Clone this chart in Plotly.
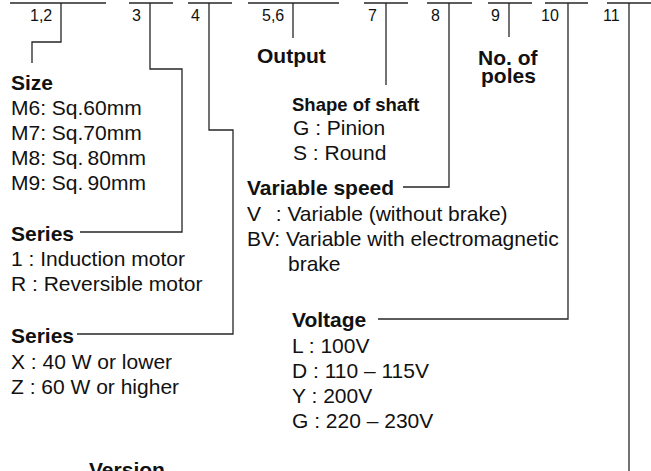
import plotly.graph_objects as go

W, H = 651, 471

# ---- content (text) ----
code_labels = ["1,2", "3", "4", "5,6", "7", "8", "9", "10", "11"]

size_title = "Size"
size_opts = ["M6: Sq.60mm", "M7: Sq.70mm", "M8: Sq.\u200980mm", "M9: Sq.\u200990mm"]

series1_title = "Series"
series1_opts = ["1 : Induction motor", "R : Reversible motor"]

series2_title = "Series"
series2_opts = ["X : 40 W or lower", "Z : 60 W or higher"]

output_title = "Output"

shaft_title = "Shape of shaft"
shaft_opts = ["G : Pinion", "S : Round"]

speed_title = "Variable speed"
speed_opts = ["V\u2002\u2009: Variable (without brake)",
              "BV: Variable with electromagnetic",
              "brake"]

poles_title = ["No. of", "poles"]

voltage_title = "Voltage"
voltage_opts = ["L : 100V", "D : 110 \u2013 115V", "Y : 200V", "G : 220 \u2013 230V"]

version_title = "Version"

# ---- layout geometry (pixels) ----
TOP = 3
seg_x = [(10, 106), (129, 173), (188, 232), (248, 339), (364, 408),
         (427, 472), (488, 532), (545, 588), (607, 651)]
drop_x = [61, 150, 209, 293, 386, 449, 509, 568, 629]
paths = [
    [(61, TOP), (61, 42), (32, 42), (32, 63)],
    [(150, TOP), (150, 69), (182, 69), (182, 232), (80, 232)],
    [(209, TOP), (209, 130), (233, 130), (233, 334), (77, 334)],
    [(293, TOP), (293, 38)],
    [(386, TOP), (386, 85)],
    [(449, TOP), (449, 187), (403, 187)],
    [(509, TOP), (509, 37)],
    [(568, TOP), (568, 319), (378, 319)],
    [(629, TOP), (629, 480)],
]

LINE = dict(color="#262626", width=1.3)
FONT = "Liberation Sans, Arial, sans-serif"
FS = 21
DY = 0.0
PADX = 3  # annotation inner padding compensation

fig = go.Figure()
fig.add_trace(go.Scatter(x=[0, W], y=[0, H], mode="markers",
                         marker=dict(opacity=0), hoverinfo="skip", showlegend=False))

shapes = []
for (a, b) in seg_x:
    shapes.append(dict(type="line", x0=a, x1=b, y0=TOP, y1=TOP, xref="x", yref="y", line=LINE))
for p in paths:
    d = "M " + " L ".join(f"{x},{y}" for x, y in p)
    shapes.append(dict(type="path", path=d, xref="x", yref="y", line=LINE))

ann = []


def txt(x, y, s, bold=False, size=FS, anchor="left"):
    if anchor == "left":
        x = x - PADX
    ann.append(dict(x=x, y=y + DY, xref="x", yref="y", text=f"<b>{s}</b>" if bold else s,
                    showarrow=False, xanchor=anchor, yanchor="middle",
                    font=dict(family=FONT, size=size, color="#111"), align=anchor))


for lab, dx in zip(code_labels, drop_x):
    txt(dx - 7, 15.5, lab, size=16, anchor="right")

# Size block
txt(12, 82, size_title, bold=True)
for i, s in enumerate(size_opts):
    txt(12, 107 + 25 * i, s)
# Series 1
txt(12, 233, series1_title, bold=True)
for i, s in enumerate(series1_opts):
    txt(12, 258 + 25 * i, s)
# Series 2
txt(12, 335, series2_title, bold=True)
for i, s in enumerate(series2_opts):
    txt(12, 361 + 25 * i, s)
# Version (cut at bottom)
txt(90, 469, version_title, bold=True)
# Output
txt(258, 55, output_title, bold=True)
# Shape of shaft
txt(293, 104, shaft_title, bold=True, size=18.5)
for i, s in enumerate(shaft_opts):
    txt(294, 127 + 25 * i, s)
# Variable speed
txt(248, 187, speed_title, bold=True)
txt(248, 213, speed_opts[0])
txt(248, 238, speed_opts[1])
txt(289, 263, speed_opts[2])
# No. of poles
txt(508, 57, poles_title[0], bold=True, anchor="center")
txt(508, 75, poles_title[1], bold=True, anchor="center")
# Voltage
txt(293, 319, voltage_title, bold=True)
for i, s in enumerate(voltage_opts):
    txt(293, 345 + 25 * i, s)

fig.update_layout(
    width=W, height=H, margin=dict(l=0, r=0, t=0, b=0),
    paper_bgcolor="white", plot_bgcolor="white",
    xaxis=dict(range=[0, W], visible=False, fixedrange=True),
    yaxis=dict(range=[H, 0], visible=False, fixedrange=True),
    shapes=shapes, annotations=ann, showlegend=False,
)
fig.write_html("out.html", config={"displayModeBar": False},
               post_script="document.body.style.margin='0';document.body.style.overflow='hidden';")
